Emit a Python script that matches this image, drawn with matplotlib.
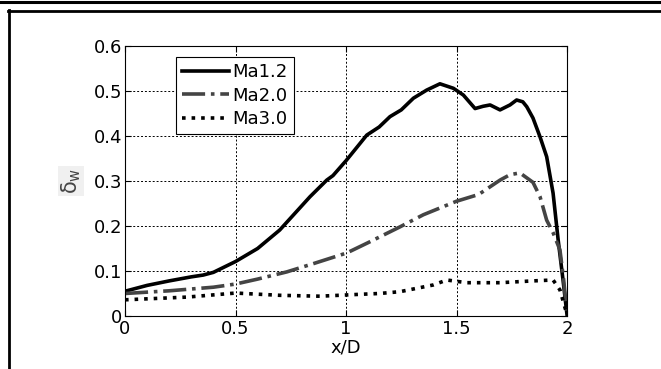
import matplotlib
matplotlib.use("Agg")
import matplotlib.pyplot as plt
from matplotlib.lines import Line2D

# Ma1.2 boundary layer thickness
x_ma12 = [0.0, 0.1, 0.2, 0.3, 0.354, 0.4, 0.5, 0.6, 0.70, 0.8, 0.837, 0.913, 0.941,
          1.0, 1.094, 1.15, 1.199, 1.25, 1.305, 1.365, 1.425, 1.486, 1.531, 1.584,
          1.62, 1.652, 1.697, 1.742, 1.772, 1.80, 1.818, 1.846, 1.878, 1.908,
          1.937, 1.96, 1.982, 2.0]
y_ma12 = [0.055, 0.068, 0.078, 0.087, 0.091, 0.097, 0.121, 0.150, 0.191, 0.245, 0.265, 0.302, 0.312,
          0.345, 0.402, 0.420, 0.443, 0.458, 0.484, 0.502, 0.516, 0.506, 0.491, 0.461,
          0.466, 0.469, 0.458, 0.469, 0.480, 0.476, 0.465, 0.440, 0.398, 0.354,
          0.273, 0.169, 0.080, 0.003]

# Ma2.0
x_ma20 = [0.0, 0.2, 0.4, 0.5, 0.6, 0.732, 0.85, 1.003, 1.1, 1.244, 1.35, 1.5, 1.6,
          1.697, 1.742, 1.787, 1.846, 1.878, 1.908, 1.938, 1.968, 1.985, 2.0]
y_ma20 = [0.050, 0.056, 0.064, 0.071, 0.082, 0.098, 0.116, 0.140, 0.163, 0.198, 0.225, 0.255, 0.270,
          0.302, 0.314, 0.318, 0.297, 0.265, 0.213, 0.184, 0.147, 0.080, 0.003]

# Ma3.0
x_ma30 = [0.0, 0.28, 0.5, 0.7, 0.882, 1.055, 1.15, 1.244, 1.395, 1.456, 1.546,
          1.697, 1.846, 1.937, 1.968, 2.0]
y_ma30 = [0.036, 0.042, 0.051, 0.046, 0.044, 0.048, 0.050, 0.054, 0.069, 0.080, 0.074,
          0.074, 0.078, 0.080, 0.058, 0.003]

xticks = [0, 0.5, 1, 1.5, 2]
xticklabels = ['0', '0.5', '1', '1.5', '2']
yticks = [0, 0.1, 0.2, 0.3, 0.4, 0.5, 0.6]
yticklabels = ['0', '0.1', '0.2', '0.3', '0.4', '0.5', '0.6']

plt.rcParams['font.family'] = ['DejaVu Sans']
plt.rcParams['mathtext.default'] = 'regular'
fig = plt.figure(figsize=(6.61, 3.69), dpi=100)
W, H = 661, 369
ax = fig.add_axes([125 / W, 1 - 316 / H, 442 / W, 270 / H])

ax.plot(x_ma12, y_ma12, color='black', linewidth=2.6, linestyle='-', label='Ma1.2')
ax.plot(x_ma20, y_ma20, color='#444444', linewidth=2.6, linestyle='-.', label='Ma2.0')
ax.plot(x_ma30, y_ma30, color='black', linewidth=2.6, linestyle=':', label='Ma3.0')

ax.set_xlim(0, 2)
ax.set_ylim(0, 0.6)
ax.set_xticks(xticks)
ax.set_xticklabels(xticklabels)
ax.set_yticks(yticks)
ax.set_yticklabels(yticklabels)
ax.tick_params(direction='in', length=4, labelsize=13, top=True, right=True)
ax.tick_params(axis='y', pad=2)
ax.tick_params(axis='x', pad=3)
ax.grid(True, color='black', linestyle=(0, (2, 2)), linewidth=0.7)
for s in ax.spines.values():
    s.set_linewidth(0.8)

ax.set_xlabel('x/D', fontsize=13, labelpad=0)
ax.set_ylabel(r'$\delta_w$', fontsize=15, color='#444444', labelpad=8,
              bbox=dict(facecolor='#f0f0f0', edgecolor='none', pad=1))

leg = ax.legend(loc='upper left', bbox_to_anchor=(0.115, 0.96), fontsize=13,
                frameon=True, fancybox=False, framealpha=1, edgecolor='black',
                handlelength=2.6, handletextpad=0.2, borderpad=0.35, labelspacing=0.3,
                borderaxespad=0)
leg.get_frame().set_linewidth(0.8)

# page frame lines around the figure
fig.add_artist(Line2D([0, 1], [1 - 1.5 / H, 1 - 1.5 / H], color='black', linewidth=2.2,
                      transform=fig.transFigure))
fig.add_artist(Line2D([8 / W, 1], [1 - 11 / H, 1 - 11 / H], color='black', linewidth=2.0,
                      transform=fig.transFigure))
fig.add_artist(Line2D([9 / W, 9 / W], [0, 1 - 10 / H], color='black', linewidth=2.0,
                      transform=fig.transFigure))

fig.savefig('out.png', dpi=100)
